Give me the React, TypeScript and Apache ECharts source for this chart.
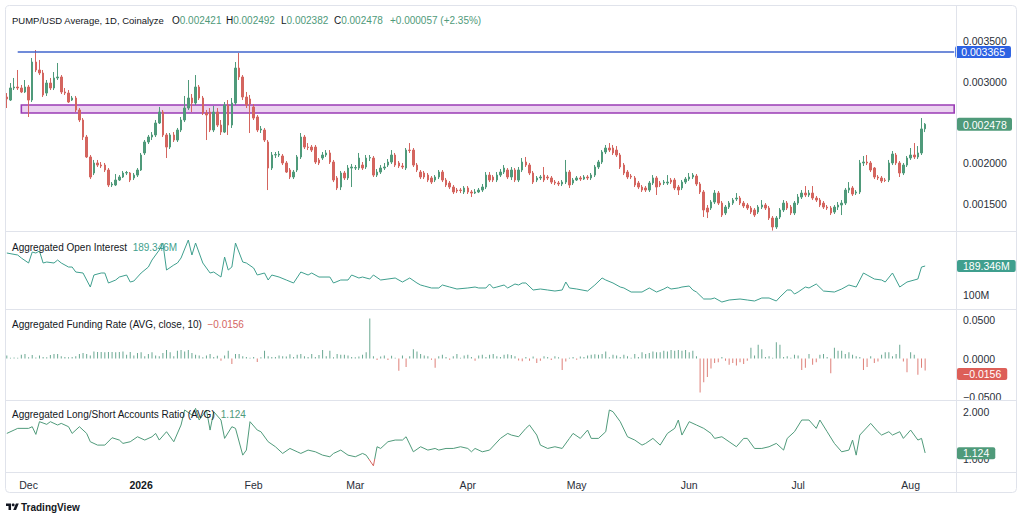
import React, { useEffect, useRef } from "react";
import * as echarts from "echarts";

// ---------- DATA ----------
const START_DATE = "2025-11-25";
const SLOT_COUNT = 262; // daily slots on the time scale (incl. empty right margin)
const MONTHS = ["Jan", "Feb", "Mar", "Apr", "May", "Jun", "Jul", "Aug", "Sep", "Oct", "Nov", "Dec"];

// Daily PUMP/USD candles in micro-USD (1e-6 USD): [open, close, low, high]
const candlesMicroUsd: number[][] = [
  [2812, 2788, 2677, 2861], [2775, 2923, 2763, 2984], [2923, 2935, 2898, 3046], [2935, 2923, 2898, 3144],
  [2923, 2874, 2861, 2960], [2874, 2935, 2861, 3021], [2935, 2775, 2567, 2960], [2775, 3242, 2751, 3291],
  [3242, 3144, 3119, 3389], [3144, 3107, 3082, 3267], [3107, 2837, 2812, 3144], [2861, 2984, 2825, 3021],
  [2984, 2923, 2898, 3046], [2923, 3046, 2898, 3119], [3046, 3058, 3021, 3230], [3058, 2874, 2849, 3082],
  [2874, 2861, 2837, 2923], [2861, 2751, 2739, 2898], [2775, 2800, 2763, 2825], [2800, 2653, 2628, 2825],
  [2653, 2530, 2505, 2677], [2530, 2321, 2284, 2554], [2321, 2076, 2063, 2346], [2076, 1830, 1805, 2100],
  [1879, 2002, 1854, 2039], [2002, 1977, 1953, 2039], [1977, 1965, 1940, 2014], [1977, 1916, 1891, 2002],
  [1916, 1732, 1707, 1940], [1732, 1744, 1707, 1768], [1732, 1793, 1719, 1867], [1793, 1830, 1781, 1854],
  [1830, 1879, 1818, 1904], [1879, 1885, 1854, 1904], [1879, 1793, 1768, 1891], [1818, 1854, 1793, 1879],
  [1854, 1916, 1830, 1940], [1916, 2100, 1904, 2125], [2125, 2260, 2100, 2284], [2260, 2321, 2235, 2346],
  [2321, 2346, 2284, 2382], [2346, 2493, 2321, 2530], [2493, 2628, 2481, 2690], [2628, 2346, 2321, 2653],
  [2346, 2198, 2063, 2370], [2198, 2346, 2174, 2370], [2346, 2284, 2260, 2382], [2284, 2407, 2260, 2432],
  [2407, 2530, 2382, 2567], [2530, 2677, 2505, 2825], [2677, 2800, 2653, 3021], [2800, 2739, 2628, 2849],
  [2739, 2935, 2714, 3082], [2935, 2800, 2775, 2960], [2800, 2616, 2591, 2825], [2616, 2591, 2284, 2653],
  [2628, 2407, 2382, 2677], [2407, 2628, 2382, 2702], [2628, 2468, 2444, 2677], [2468, 2382, 2346, 2530],
  [2382, 2714, 2370, 2751], [2714, 2468, 2346, 2775], [2468, 2739, 2432, 2800], [2739, 3168, 2714, 3242],
  [3168, 3058, 3021, 3353], [3058, 2812, 2775, 3082], [2812, 2714, 2677, 2874], [2788, 2726, 2370, 2837],
  [2690, 2554, 2530, 2726], [2567, 2407, 2382, 2591], [2407, 2420, 2370, 2456], [2407, 2284, 2260, 2432],
  [2260, 1940, 1670, 2284], [1940, 2100, 1916, 2137], [2100, 2105, 2063, 2137], [2100, 2112, 2076, 2149],
  [2088, 2002, 1977, 2112], [2002, 1891, 1879, 2026], [1916, 1830, 1805, 1940], [1830, 1891, 1805, 1916],
  [1916, 2076, 1891, 2100], [2076, 2321, 2051, 2370], [2321, 2198, 2174, 2346], [2198, 2192, 2161, 2247],
  [2198, 2161, 2137, 2223], [2198, 2014, 1990, 2223], [2039, 2002, 1977, 2063], [2063, 2100, 2039, 2137],
  [2100, 2125, 2076, 2161], [2125, 2014, 1990, 2161], [2014, 1793, 1768, 2039], [1818, 1695, 1670, 1842],
  [1707, 1879, 1670, 1904], [1879, 1818, 1793, 1904], [1818, 1940, 1793, 1977], [1940, 1953, 1707, 1990],
  [1940, 1946, 1916, 1977], [1940, 2063, 1916, 2125], [1977, 1940, 1916, 2014], [1953, 2063, 1928, 2100],
  [2063, 2069, 2026, 2100], [2063, 1854, 1830, 2088], [1854, 1891, 1830, 1928], [1891, 1940, 1867, 1977],
  [1940, 1953, 1916, 2002], [1977, 2014, 1953, 2051], [2014, 2100, 1990, 2161], [2100, 1977, 1953, 2125],
  [2002, 1965, 1940, 2026], [1965, 1953, 1928, 2002], [1940, 2161, 1916, 2186], [2161, 2155, 2125, 2247],
  [2161, 1977, 1953, 2186], [1977, 1916, 1891, 2002], [1891, 1830, 1805, 1916], [1879, 1830, 1805, 1904],
  [1854, 1793, 1768, 1879], [1818, 1768, 1744, 1842], [1793, 1830, 1768, 1854], [1830, 1891, 1805, 1916],
  [1891, 1793, 1768, 1916], [1793, 1732, 1707, 1818], [1756, 1707, 1682, 1781], [1707, 1646, 1621, 1732],
  [1670, 1658, 1633, 1695], [1670, 1664, 1633, 1695], [1646, 1695, 1621, 1719], [1695, 1646, 1621, 1719],
  [1646, 1633, 1584, 1670], [1633, 1646, 1621, 1682], [1646, 1670, 1633, 1695], [1670, 1707, 1646, 1744],
  [1707, 1854, 1682, 1891], [1854, 1793, 1768, 1891], [1830, 1793, 1768, 1854], [1793, 1854, 1768, 1891],
  [1854, 1891, 1830, 1928], [1891, 1940, 1867, 1977], [1916, 1830, 1805, 1940], [1830, 1916, 1793, 1953],
  [1916, 1793, 1768, 1940], [1793, 1916, 1768, 1953], [1916, 2014, 1891, 2063], [2014, 1977, 1953, 2076],
  [1977, 1879, 1854, 2002], [1879, 1768, 1744, 1904], [1793, 1818, 1768, 1842], [1818, 1830, 1793, 1854],
  [1854, 1793, 1768, 1953], [1830, 1818, 1793, 1854], [1818, 1768, 1744, 1842], [1768, 1756, 1732, 1793],
  [1756, 1744, 1719, 1781], [1744, 1768, 1719, 1793], [1768, 1891, 1744, 2039], [1891, 1732, 1695, 1916],
  [1756, 1793, 1732, 1818], [1793, 1818, 1781, 1842], [1818, 1805, 1781, 1842], [1805, 1830, 1793, 1854],
  [1830, 1818, 1793, 1854], [1818, 1854, 1793, 1879], [1854, 1953, 1830, 1977], [1953, 2014, 1928, 2039],
  [2014, 2137, 1990, 2161], [2137, 2186, 2112, 2223], [2186, 2161, 2137, 2247], [2186, 2125, 2100, 2223],
  [2161, 2100, 2076, 2210], [2100, 1953, 1928, 2125], [1977, 1879, 1854, 2002], [1891, 1830, 1805, 1916],
  [1842, 1830, 1805, 1867], [1818, 1732, 1707, 1842], [1756, 1707, 1682, 1781], [1707, 1670, 1646, 1732],
  [1695, 1670, 1646, 1719], [1670, 1756, 1646, 1781], [1756, 1818, 1732, 1854], [1818, 1707, 1609, 1842],
  [1756, 1732, 1707, 1781], [1756, 1768, 1732, 1793], [1756, 1768, 1732, 1854], [1793, 1768, 1744, 1818],
  [1793, 1695, 1670, 1818], [1707, 1670, 1609, 1732], [1695, 1768, 1670, 1793], [1768, 1805, 1744, 1830],
  [1805, 1830, 1781, 1879], [1830, 1854, 1805, 1879], [1842, 1744, 1719, 1867], [1744, 1646, 1621, 1768],
  [1646, 1425, 1339, 1670], [1449, 1400, 1326, 1486], [1449, 1523, 1425, 1547], [1523, 1633, 1498, 1670],
  [1633, 1510, 1486, 1658], [1510, 1363, 1339, 1535], [1388, 1461, 1363, 1486], [1461, 1510, 1437, 1535],
  [1510, 1547, 1486, 1572], [1560, 1572, 1535, 1633], [1572, 1510, 1486, 1597], [1510, 1474, 1449, 1535],
  [1486, 1449, 1425, 1510], [1449, 1400, 1376, 1474], [1425, 1363, 1339, 1449], [1400, 1461, 1376, 1486],
  [1461, 1486, 1437, 1547], [1486, 1449, 1425, 1510], [1449, 1326, 1302, 1474], [1326, 1216, 1172, 1351],
  [1216, 1326, 1192, 1351], [1339, 1425, 1314, 1449], [1425, 1510, 1400, 1547], [1510, 1449, 1425, 1535],
  [1461, 1388, 1363, 1486], [1388, 1510, 1363, 1535], [1510, 1584, 1486, 1621], [1584, 1633, 1560, 1670],
  [1633, 1609, 1584, 1719], [1609, 1633, 1584, 1670], [1633, 1572, 1547, 1719], [1572, 1547, 1523, 1597],
  [1547, 1486, 1461, 1572], [1510, 1461, 1437, 1535], [1461, 1449, 1425, 1486], [1449, 1388, 1363, 1474],
  [1400, 1461, 1376, 1486], [1461, 1486, 1425, 1523], [1486, 1510, 1363, 1547], [1510, 1670, 1486, 1695],
  [1670, 1695, 1633, 1768], [1695, 1621, 1597, 1719], [1633, 1646, 1609, 1670], [1646, 2002, 1621, 2039],
  [2002, 2014, 1965, 2088], [2014, 2002, 1977, 2100], [2002, 1916, 1891, 2026], [1940, 1830, 1805, 1953],
  [1830, 1818, 1793, 1854], [1818, 1781, 1756, 1842], [1793, 1787, 1768, 1818], [1793, 2002, 1768, 2039],
  [2002, 2112, 1977, 2149], [2100, 2002, 1977, 2125], [2002, 1879, 1830, 2026], [1879, 1977, 1854, 2002],
  [1977, 2063, 1953, 2088], [2063, 2100, 2039, 2186], [2100, 2076, 2051, 2247], [2076, 2125, 2051, 2210],
  [2125, 2420, 2100, 2554], [2421, 2478, 2382, 2492],
];

const resistanceLevel = 0.003365;
const resistanceStartDay = 3;
const zoneTop = 0.002715;
const zoneBottom = 0.002615;
const zoneStartDay = 4;

// Aggregated open interest, millions USD: [dayIndex, value]
const openInterestM: number[][] = [
  [0, 229.4], [3, 223.2], [4, 214.0], [6, 198.6], [7, 232.4], [8, 229.4], [9, 235.5], [10, 198.6], [11, 201.6],
  [13, 198.6], [14, 207.8], [15, 198.6], [17, 186.2], [18, 186.2], [19, 170.8], [21, 167.8], [22, 146.2],
  [23, 124.6], [24, 161.6], [26, 167.8], [27, 167.8], [28, 137.0], [30, 146.2], [31, 155.4], [33, 161.6],
  [34, 140.0], [35, 143.1], [37, 167.8], [39, 186.2], [40, 207.8], [42, 238.6], [43, 260.2], [44, 177.0],
  [46, 192.4], [47, 198.6], [48, 214.0], [50, 269.4], [51, 223.2], [52, 260.2], [53, 229.4], [54, 198.6],
  [56, 167.8], [57, 170.8], [59, 155.4], [60, 217.0], [61, 177.0], [62, 186.2], [63, 260.2], [65, 201.6],
  [66, 198.6], [68, 183.2], [69, 161.6], [71, 167.8], [72, 146.2], [73, 161.6], [75, 155.4], [77, 146.2],
  [79, 137.0], [81, 170.8], [83, 161.6], [84, 167.8], [86, 155.4], [89, 155.4], [90, 137.0], [92, 146.2],
  [94, 146.2], [95, 161.6], [97, 152.4], [98, 155.4], [100, 149.3], [101, 161.6], [103, 146.2], [105, 149.3],
  [107, 152.4], [109, 140.0], [110, 146.2], [111, 152.4], [113, 137.0], [114, 130.8], [115, 127.7], [117, 121.6],
  [119, 121.6], [120, 130.8], [122, 124.6], [124, 118.5], [127, 121.6], [129, 124.6], [130, 121.6], [132, 121.6],
  [133, 133.9], [134, 121.6], [135, 124.6], [137, 130.8], [138, 121.6], [140, 133.9], [141, 130.8], [142, 137.0],
  [143, 137.0], [145, 115.4], [147, 118.5], [149, 115.4], [151, 112.3], [153, 115.4], [154, 140.0], [155, 121.6],
  [157, 118.5], [160, 112.3], [162, 130.8], [164, 152.4], [165, 146.2], [167, 137.0], [169, 124.6], [170, 121.6],
  [172, 109.2], [175, 109.2], [177, 121.6], [178, 115.4], [179, 109.2], [181, 118.5], [182, 124.6], [183, 118.5],
  [185, 121.6], [186, 124.6], [188, 127.7], [189, 115.4], [190, 109.2], [192, 87.7], [194, 87.7], [195, 90.8],
  [197, 78.4], [199, 84.6], [202, 87.7], [204, 84.6], [206, 81.5], [208, 90.8], [210, 90.8], [212, 81.5],
  [213, 93.8], [215, 115.4], [216, 115.4], [217, 103.1], [218, 109.2], [220, 124.6], [221, 121.6], [223, 133.9],
  [225, 112.3], [228, 109.2], [230, 118.5], [232, 130.8], [234, 124.6], [236, 167.8], [237, 161.6], [239, 149.3],
  [241, 146.2], [242, 140.0], [244, 167.8], [246, 124.6], [248, 140.0], [251, 149.3], [252, 186.2], [253, 189.346],
];

// Aggregated funding rate (AVG, close, 10), one value per day
const fundingRate: number[] = [
  0.004, 0.001, 0.0012, 0.001, 0.005, 0.006, 0.0015, 0.0045, 0.0012, 0.004,
  0.002, 0.0015, 0.0045, 0.006, 0.006, 0.003, 0.002, 0.0015, 0.002, 0.003,
  0.006, 0.007, 0.006, 0.004, 0.009, 0.0085, 0.0085, 0.008, 0.0085, 0.0085,
  0.008, 0.0085, 0.009, 0.005, 0.0085, 0.004, 0.007, 0.008, 0.003, 0.006,
  0.008, 0.004, 0.003, 0.007, 0.011, 0.008, 0.003, 0.01, 0.011, 0.009,
  0.011, 0.007, 0.005, 0.004, 0.0015, 0.004, 0.006, 0.002, 0.0035, -0.003,
  0.004, 0.01, -0.007, 0.006, 0.006, 0.003, 0.002, 0.001, 0.002, -0.0045,
  0.0015, 0.01, 0.003, 0.002, 0.002, 0.004, 0.003, 0.0025, 0.0055, 0.002,
  0.005, 0.006, 0.003, 0.002, 0.006, 0.002, 0.0045, 0.011, 0.003, 0.01,
  0.0015, 0.006, 0.005, 0.005, 0.004, 0.002, 0.0015, 0.0025, 0.005, 0.008,
  0.052, 0.003, -0.002, 0.0025, 0.004, -0.002, 0.0035, 0.001, -0.016, 0.004,
  -0.011, 0.003, 0.012, 0.009, 0.006, 0.004, 0.003, -0.0015, -0.012, 0.003,
  0.005, 0.002, -0.0015, 0.003, 0.006, 0.001, 0.004, 0.005, 0.002, -0.003,
  0.004, 0.005, 0.002, 0.005, 0.006, 0.003, 0.002, 0.005, 0.0055, 0.0045,
  0.003, -0.0025, -0.0035, 0.002, -0.003, 0.0025, -0.006, -0.003, 0.003, 0.002,
  -0.002, 0.003, 0.0015, -0.015, -0.004, 0.001, 0.002, -0.0015, 0.0025, 0.002,
  0.004, 0.005, 0.0055, 0.005, 0.006, 0.009, 0.0015, 0.005, 0.004, 0.002,
  0.005, 0.003, 0.001, 0.006, 0.002, 0.008, 0.006, 0.007, 0.009, 0.008,
  0.008, 0.01, 0.009, 0.011, 0.01, 0.011, 0.01, 0.011, 0.008, 0.01,
  0.003, -0.044, -0.031, -0.024, -0.013, -0.006, -0.005, 0.002, -0.003, -0.008,
  -0.006, -0.009, -0.005, -0.007, -0.003, 0.014, 0.004, 0.018, 0.012, 0.002,
  0.003, 0.001, 0.021, 0.018, 0.002, 0.003, 0.001, 0.005, 0.004, -0.015,
  -0.012, 0.006, -0.008, -0.005, 0.005, 0.006, 0.002, -0.019, 0.014, 0.01,
  0.01, 0.006, 0.008, 0.005, 0.003, 0.002, -0.015, -0.011, 0.003, -0.006,
  -0.004, 0.005, 0.008, 0.008, 0.003, 0.006, 0.018, -0.004, -0.018, 0.008,
  0.005, -0.021, -0.012, -0.0156,
];

// Aggregated long/short accounts ratio (AVG): [dayIndex, value]
const longShortRatio: number[][] = [
  [0, 1.539], [2, 1.61], [3, 1.646], [6, 1.646], [7, 1.681], [8, 1.518], [9, 1.788], [11, 1.731], [12, 1.788],
  [14, 1.717], [15, 1.752], [17, 1.681], [18, 1.539], [20, 1.681], [22, 1.539], [23, 1.362], [25, 1.291],
  [27, 1.291], [29, 1.447], [31, 1.398], [32, 1.327], [34, 1.362], [36, 1.468], [38, 1.398], [40, 1.468],
  [41, 1.539], [42, 1.398], [44, 1.575], [46, 1.362], [48, 1.717], [49, 2.036], [51, 1.929], [52, 2.071],
  [53, 1.823], [55, 2.036], [56, 1.61], [57, 2.0], [59, 1.823], [60, 1.433], [62, 1.681], [63, 1.646],
  [65, 1.078], [66, 1.185], [67, 1.788], [69, 1.61], [70, 1.575], [72, 1.362], [74, 1.256], [76, 1.114],
  [78, 1.22], [80, 1.149], [81, 1.114], [83, 1.185], [85, 1.149], [87, 1.078], [89, 1.043], [90, 1.114],
  [92, 1.185], [94, 1.078], [96, 1.043], [98, 1.114], [99, 1.078], [101, 0.851], [102, 1.256], [103, 1.22],
  [105, 1.362], [107, 1.398], [109, 1.398], [110, 1.468], [112, 1.149], [114, 1.256], [116, 1.185], [118, 1.22],
  [119, 1.185], [121, 1.22], [123, 1.22], [125, 1.256], [127, 1.22], [128, 1.149], [129, 1.22], [131, 1.149],
  [133, 1.185], [136, 1.433], [138, 1.539], [139, 1.504], [141, 1.468], [143, 1.646], [144, 1.717], [146, 1.504],
  [147, 1.291], [149, 1.22], [151, 1.256], [153, 1.22], [155, 1.433], [156, 1.539], [158, 1.433], [160, 1.61],
  [161, 1.433], [163, 1.433], [165, 1.575], [166, 2.036], [167, 2.0], [169, 1.788], [171, 1.468], [173, 1.398],
  [175, 1.291], [176, 1.327], [178, 1.433], [180, 1.291], [182, 1.539], [184, 1.646], [185, 1.823], [186, 1.504],
  [188, 1.788], [190, 1.717], [192, 1.646], [194, 1.539], [195, 1.433], [197, 1.468], [199, 1.362], [201, 1.256],
  [203, 1.433], [204, 1.433], [206, 1.22], [208, 1.22], [210, 1.256], [212, 1.327], [214, 1.185], [215, 1.433],
  [217, 1.575], [219, 1.823], [221, 1.823], [223, 1.646], [224, 1.823], [226, 1.575], [228, 1.327], [230, 1.149],
  [232, 1.185], [233, 1.398], [234, 1.078], [235, 1.504], [238, 1.752], [240, 1.575], [241, 1.504], [243, 1.575],
  [244, 1.504], [246, 1.575], [247, 1.433], [249, 1.61], [251, 1.398], [252, 1.433], [253, 1.124],
];
const lsThreshold = 1; // ratio below which the line turns red

// ---------- STYLE ----------
const FONT = "'Liberation Sans', Arial, sans-serif";
const TEXT = "#131722";
const AXIS_TEXT = "#2a2e39";
const UP = "#4f9a7a";
const DOWN = "#d4655f";
const OI_COLOR = "#3f9f8e";
const BORDER = "#e0e3eb";
const BLUE_LINE = "#4165cc";
const BLUE_TAG = "#2d62e3";
const PURPLE = "#9a3db5";

const MICRO = 1e-6;

function buildDates(): string[] {
  const out: string[] = [];
  const t0 = new Date(START_DATE + "T00:00:00Z").getTime();
  for (let i = 0; i < SLOT_COUNT; i++) out.push(new Date(t0 + i * 86400000).toISOString().slice(0, 10));
  return out;
}

const TV_LOGO_D = "M14 22H7V11H0V4h14v18zM28 22h-8l7.5-18h8L28 22z";

export default function App() {
  const ref = useRef<HTMLDivElement>(null);

  useEffect(() => {
    if (!ref.current) return;
    let logoOk = true;
    try {
      echarts.graphic.registerShape("tvLogo", echarts.graphic.extendPath(TV_LOGO_D, {}) as any);
    } catch (e) {
      logoOk = false;
    }
    const chart = echarts.init(ref.current, undefined, { renderer: "svg" });

    const dates = buildDates();
    const candles = candlesMicroUsd.map((c) => c.map((v) => v * MICRO));
    const lastIndex = candles.length - 1;
    const [lo, lc, ll, lh] = candles[lastIndex];
    const change = lc - lo;
    const changePct = (change / lo) * 100;
    const lastOI = openInterestM[openInterestM.length - 1][1];
    const lastFunding = fundingRate[fundingRate.length - 1];
    const lastLS = longShortRatio[longShortRatio.length - 1][1];

    const fmtSigned = (v: number, d: number) => (v < 0 ? "\u2212" : "") + Math.abs(v).toFixed(d);
    const isMultiple = (v: number, step: number) => Math.abs(v / step - Math.round(v / step)) < 1e-6;

    const grids = [
      { left: 5, right: 68, top: 5, height: 226 },
      { left: 5, right: 68, top: 231, height: 78 },
      { left: 5, right: 68, top: 309, height: 91 },
      { left: 5, right: 68, top: 400, height: 72 },
    ];

    const xAxes = grids.map((_, i) => ({
      type: "category",
      gridIndex: i,
      data: dates,
      boundaryGap: true,
      axisLine: { show: false },
      axisTick: { show: false },
      splitLine: { show: false },
      axisLabel:
        i === 3
          ? {
              show: true,
              margin: 7,
              fontSize: 10.5,
              fontFamily: FONT,
              color: AXIS_TEXT,
              interval: (_idx: number, v: string) => v.endsWith("-01"),
              formatter: (v: string) => {
                const [y, m] = v.split("-");
                return m === "01" ? `{y|${y}}` : MONTHS[Number(m) - 1];
              },
              rich: { y: { fontWeight: "bold", fontSize: 10.5, fontFamily: FONT, color: TEXT } },
            }
          : { show: false },
    }));

    const yLabel = (fmt: (v: number) => string) => ({
      show: true,
      margin: 7,
      fontSize: 10.5,
      fontFamily: FONT,
      color: AXIS_TEXT,
      formatter: fmt,
    });
    const yBase = {
      type: "value",
      position: "right",
      axisLine: { show: false },
      axisTick: { show: false },
      splitLine: { show: false },
    };
    const yAxes = [
      {
        ...yBase,
        gridIndex: 0,
        min: 0.001167,
        max: 0.003942,
        splitNumber: 5,
        axisLabel: yLabel((v: number) => (isMultiple(v, 0.0005) && Math.abs(v - 0.0025) > 1e-9 ? v.toFixed(6) : "")),
      },
      {
        ...yBase,
        gridIndex: 1,
        min: 56.9,
        max: 297.2,
        splitNumber: 2,
        axisLabel: yLabel((v: number) => (Math.abs(v - 100) < 1e-6 ? "100M" : "")),
      },
      {
        ...yBase,
        gridIndex: 2,
        min: -0.0539,
        max: 0.0643,
        splitNumber: 2,
        axisLabel: yLabel((v: number) => (isMultiple(v, 0.05) ? fmtSigned(Math.abs(v) < 1e-9 ? 0 : v, 4) : "")),
      },
      {
        ...yBase,
        gridIndex: 3,
        min: 0.72,
        max: 2.248,
        splitNumber: 2,
        axisLabel: yLabel((v: number) => (isMultiple(v, 1) ? v.toFixed(3) : "")),
      },
    ];

    const tagLabel = (text: string, bg: string) => ({
      show: true,
      position: "end",
      distance: 1,
      formatter: text,
      backgroundColor: bg,
      color: "#ffffff",
      opacity: 1,
      fontSize: 10.5,
      fontFamily: FONT,
      padding: [1, 6, 0, 6],
      borderRadius: 2,
    });
    const hiddenLine = { color: "rgba(0,0,0,0)", width: 0, opacity: 1 };
    const valueTag = (value: number, text: string, bg: string) => ({
      silent: true,
      symbol: ["none", "none"],
      data: [{ yAxis: value, lineStyle: hiddenLine, label: tagLabel(text, bg) }],
    });

    const graphicEls: any[] = [
      // frame & pane separators
      { type: "rect", silent: true, z: 50, shape: { x: 5.5, y: 5.5, width: 1011, height: 487, r: 4 }, style: { fill: "none", stroke: BORDER, lineWidth: 1 } },
      ...[231.5, 309.5, 400.5, 472.5].map((y) => ({
        type: "line", silent: true, z: 50, shape: { x1: 5, y1: y, x2: 1017, y2: y }, style: { stroke: BORDER, lineWidth: 1 },
      })),
      { type: "line", silent: true, z: 50, shape: { x1: 956.5, y1: 5, x2: 956.5, y2: 493 }, style: { stroke: BORDER, lineWidth: 1 } },
      // header
      { type: "text", x: 12, y: 20, z: 60, style: { text: "PUMP/USD Average, 1D, Coinalyze", fill: TEXT, fontSize: 9.5, fontFamily: FONT, verticalAlign: "middle" } },
      ...[
        ["O", lo, 172],
        ["H", lh, 226],
        ["L", ll, 281],
        ["C", lc, 334],
      ].map(([k, v, x]) => ({
        type: "text",
        x: x as number,
        y: 20,
        z: 60,
        style: {
          text: `{k|${k}}{v|${(v as number).toFixed(6)}}`,
          fontSize: 10,
          fontFamily: FONT,
          verticalAlign: "middle",
          rich: { k: { fill: TEXT, fontSize: 10, fontFamily: FONT }, v: { fill: UP, fontSize: 10, fontFamily: FONT } },
        },
      })),
      {
        type: "text", x: 390, y: 20, z: 60,
        style: { text: `+${change.toFixed(6)} (+${changePct.toFixed(2)}%)`, fill: UP, fontSize: 10, fontFamily: FONT, verticalAlign: "middle" },
      },
      // pane titles
      {
        type: "text", x: 12, y: 247, z: 60,
        style: {
          text: `{t|Aggregated Open Interest}  {v|${lastOI.toFixed(3)}M}`,
          fontSize: 10, fontFamily: FONT, verticalAlign: "middle",
          rich: { t: { fill: TEXT, fontSize: 10, fontFamily: FONT }, v: { fill: OI_COLOR, fontSize: 10, fontFamily: FONT } },
        },
      },
      {
        type: "text", x: 12, y: 324, z: 60,
        style: {
          text: `{t|Aggregated Funding Rate (AVG, close, 10)}  {v|${fmtSigned(lastFunding, 4)}}`,
          fontSize: 10, fontFamily: FONT, verticalAlign: "middle",
          rich: { t: { fill: TEXT, fontSize: 10, fontFamily: FONT }, v: { fill: DOWN, fontSize: 10, fontFamily: FONT } },
        },
      },
      {
        type: "text", x: 12, y: 414, z: 60,
        style: {
          text: `{t|Aggregated Long/Short Accounts Ratio (AVG)}  {v|${lastLS.toFixed(3)}}`,
          fontSize: 10, fontFamily: FONT, verticalAlign: "middle",
          rich: { t: { fill: TEXT, fontSize: 10, fontFamily: FONT }, v: { fill: UP, fontSize: 10, fontFamily: FONT } },
        },
      },
      { type: "circle", z: 60, shape: { cx: 6 + 20 * 0.36, cy: 502 + 8 * 0.36, r: 1.45 }, style: { fill: TEXT } },
      { type: "text", x: 21, y: 507, z: 60, style: { text: "TradingView", fill: TEXT, fontSize: 10, fontWeight: "bold", fontFamily: FONT, verticalAlign: "middle" } },
    ];
    if (logoOk) {
      graphicEls.push({ type: "tvLogo", x: 6, y: 502, scaleX: 0.36, scaleY: 0.36, z: 60, style: { fill: TEXT } });
    }

    const option: any = {
      animation: false,
      backgroundColor: "#ffffff",
      grid: grids,
      xAxis: xAxes,
      yAxis: yAxes,
      series: [
        {
          type: "candlestick",
          xAxisIndex: 0,
          yAxisIndex: 0,
          data: candles,
          barWidth: 2,
          itemStyle: { color: UP, color0: DOWN, borderColor: UP, borderColor0: DOWN, borderWidth: 1 },
          markArea: {
            silent: true,
            itemStyle: { color: "rgba(190, 110, 205, 0.3)", borderColor: PURPLE, borderWidth: 1.6 },
            data: [[{ xAxis: dates[zoneStartDay], yAxis: zoneTop }, { xAxis: dates[SLOT_COUNT - 1], yAxis: zoneBottom }]],
          },
          markLine: {
            silent: true,
            symbol: ["none", "none"],
            data: [
              [
                {
                  xAxis: dates[resistanceStartDay],
                  yAxis: resistanceLevel,
                  lineStyle: { color: BLUE_LINE, width: 1.5, type: "solid" },
                  label: tagLabel(resistanceLevel.toFixed(6), BLUE_TAG),
                },
                { xAxis: dates[SLOT_COUNT - 1], yAxis: resistanceLevel },
              ],
            ],
          },
        },
        {
          type: "line",
          xAxisIndex: 1,
          yAxisIndex: 1,
          data: openInterestM,
          showSymbol: false,
          lineStyle: { color: OI_COLOR, width: 1 },
          itemStyle: { color: OI_COLOR },
          markLine: valueTag(lastOI, lastOI.toFixed(3) + "M", OI_COLOR),
        },
        {
          type: "bar",
          xAxisIndex: 2,
          yAxisIndex: 2,
          barWidth: 1,
          data: fundingRate.map((v) => ({ value: v, itemStyle: { color: v >= 0 ? "#6aa892" : "#de7f78" } })),
          markLine: valueTag(lastFunding, fmtSigned(lastFunding, 4), "#dd5f58"),
        },
        {
          type: "line",
          xAxisIndex: 3,
          yAxisIndex: 3,
          data: longShortRatio,
          showSymbol: false,
          lineStyle: { color: UP, width: 1 },
          itemStyle: { color: UP },
          markLine: valueTag(lastLS, lastLS.toFixed(3), UP),
        },
      ],
      graphic: { elements: graphicEls },
    };

    chart.setOption(option);

    // Second pass: elements positioned through the axis scales.
    try {
      const extra: any[] = [];
      // last-price tag on the price axis
      const py = chart.convertToPixel({ yAxisIndex: 0 } as any, lc) as unknown as number;
      if (isFinite(py)) {
        extra.push({
          id: "lastPriceTag",
          type: "group",
          z: 70,
          children: [
            { type: "rect", shape: { x: 957, y: py - 6.5, width: 55, height: 13, r: 2 }, style: { fill: UP } },
            { type: "text", x: 963, y: py + 0.5, style: { text: lc.toFixed(6), fill: "#ffffff", fontSize: 10.5, fontFamily: FONT, verticalAlign: "middle" } },
          ],
        });
      }
      // red colouring of the long/short line below the threshold
      const yThr = chart.convertToPixel({ yAxisIndex: 3 } as any, lsThreshold) as unknown as number;
      const top = 400;
      const bottom = 472;
      const f = Math.min(1, Math.max(0, (yThr - top) / (bottom - top)));
      chart.setOption({
        series: [
          {},
          {},
          {},
          {
            lineStyle: {
              color: new echarts.graphic.LinearGradient(
                0, top, 0, bottom,
                [
                  { offset: 0, color: UP },
                  { offset: f, color: UP },
                  { offset: f, color: DOWN },
                  { offset: 1, color: DOWN },
                ],
                true
              ),
              width: 1,
            },
          },
        ],
        graphic: { elements: [...graphicEls, ...extra] },
      });
    } catch (e) {}

    return () => chart.dispose();
  }, []);

  return <div ref={ref} style={{ position: "absolute", left: 0, top: 0, width: 1024, height: 517, background: "#fff" }} />;
}
